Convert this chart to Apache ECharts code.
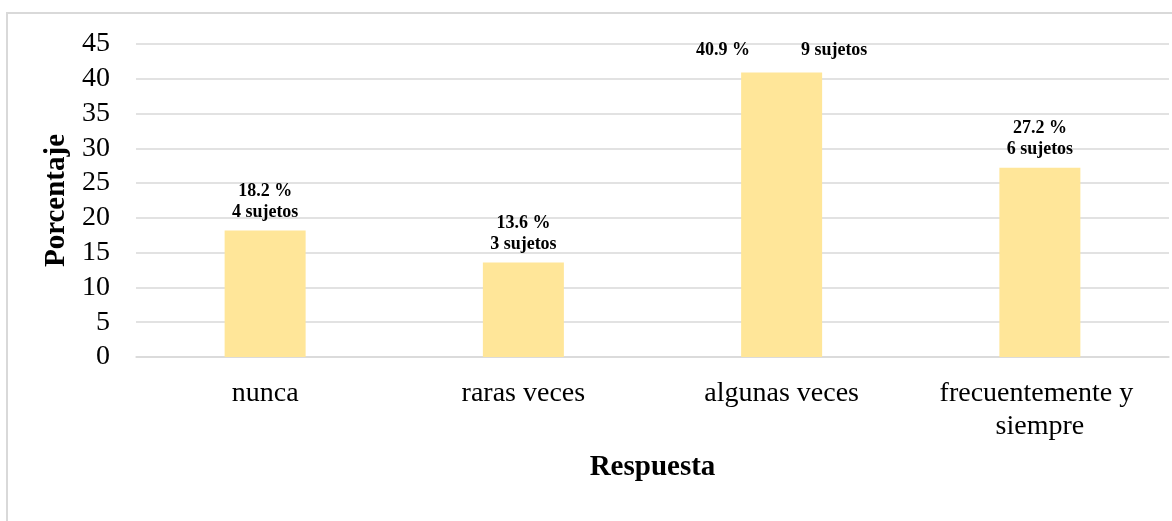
<!DOCTYPE html>
<html>
<head>
<meta charset="utf-8">
<script src="https://cdn.jsdelivr.net/npm/echarts@6/dist/echarts.min.js"></script>
<style>
  html, body { margin: 0; padding: 0; background: #fff; }
  #myChart { width: 1172px; height: 521px; }
</style>
</head>
<body>
<div id="myChart"></div>
<script>
const categories = ['nunca', 'raras veces', 'algunas veces', 'frecuentemente y siempre']
const percentages = [18.2, 13.6, 40.9, 27.2]
const subjects = [4, 3, 9, 6]

const serif = "'Liberation Serif', 'Times New Roman', serif"

let myChart = echarts.init(document.getElementById('myChart'))

let seriesData = percentages.map((val, i) => {
    let item = { value: val }
    // the tallest bar has its two label parts on one line
    if (i === 2) {
        item.label = {
            distance: 12,
            formatter: '{a|' + val.toFixed(1) + ' %}{b|' + subjects[i] + ' sujetos}'
        }
    }
    return item
})

let option = {
    animation: false,
    graphic: [
        {
            type: 'rect',
            shape: { x: 7, y: 13, width: 1300, height: 700 },
            style: { fill: 'none', stroke: '#d9d9d9', lineWidth: 2 },
            silent: true
        }
    ],
    grid: {
        left: 136,
        right: 3,
        top: 44,
        bottom: 164
    },
    xAxis: {
        type: 'category',
        data: categories,
        name: 'Respuesta',
        nameLocation: 'middle',
        nameGap: 96,
        nameTextStyle: {
            fontFamily: serif,
            fontSize: 29,
            fontWeight: 'bold',
            color: '#000'
        },
        axisLine: { lineStyle: { color: '#d9d9d9', width: 1.5 } },
        axisTick: { show: false },
        axisLabel: {
            interval: 0,
            margin: 20,
            fontFamily: serif,
            fontSize: 28,
            lineHeight: 33,
            color: '#000',
            width: 250,
            overflow: 'break'
        }
    },
    yAxis: {
        type: 'value',
        min: 0,
        max: 45,
        interval: 5,
        name: 'Porcentaje',
        nameLocation: 'middle',
        nameGap: 59,
        nameRotate: 90,
        nameTextStyle: {
            fontFamily: serif,
            fontSize: 29,
            fontWeight: 'bold',
            color: '#000'
        },
        axisLine: { show: false },
        axisTick: { show: false },
        axisLabel: {
            margin: 26,
            fontFamily: serif,
            fontSize: 28,
            color: '#000'
        },
        splitLine: { lineStyle: { color: '#d9d9d9', width: 1.5 } }
    },
    series: [
        {
            type: 'bar',
            barWidth: 81,
            itemStyle: { color: '#FFE699' },
            label: {
                show: true,
                position: 'top',
                distance: 8,
                fontFamily: serif,
                fontSize: 18,
                fontWeight: 'bold',
                lineHeight: 21,
                color: '#000',
                formatter: p => p.value.toFixed(1) + ' %\n' + subjects[p.dataIndex] + ' sujetos',
                rich: {
                    a: { fontFamily: serif, fontSize: 18, fontWeight: 'bold', color: '#000', padding: [0, 51, 0, 0] },
                    b: { fontFamily: serif, fontSize: 18, fontWeight: 'bold', color: '#000' }
                }
            },
            data: seriesData
        }
    ]
}

myChart.setOption(option)
</script>
</body>
</html>
